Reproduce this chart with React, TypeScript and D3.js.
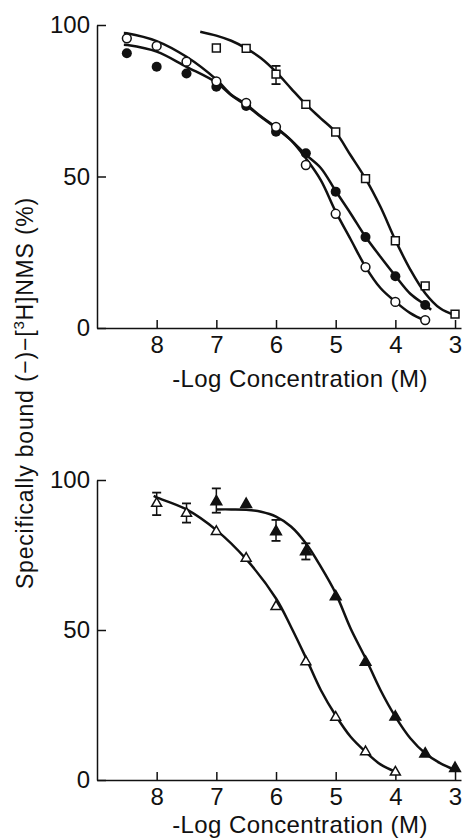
import { axisBottom, axisLeft, curveCatmullRom, line, scaleLinear, select, symbol, symbolSquare, symbolTriangle } from 'd3';
import * as React from 'react';

const xTicks = [8, 7, 6, 5, 4, 3];
const yTicks = [0, 50, 100];
const xTitle = "-Log Concentration (M)";

// upper panel, measured points
const openCircleX = [8.5, 8, 7.5, 7, 6.5, 6, 5.5, 5, 4.5, 4, 3.5];
const openCircleY = [95.6, 93.1, 87.9, 81.4, 74.3, 66.4, 53.8, 37.7, 20.1, 8.6, 2.6];
const filledCircleX = [8.5, 8, 7.5, 7, 6.5, 6, 5.5, 5, 4.5, 4, 3.5];
const filledCircleY = [90.7, 86.2, 84.0, 79.6, 73.3, 64.8, 57.7, 45.0, 30.0, 17.1, 7.6];
const squareX = [7, 6.5, 6, 5.5, 5, 4.5, 4, 3.5, 3];
const squareY = [92.4, 92.3, 83.8, 73.8, 64.7, 49.3, 28.8, 13.9, 4.6];
const squareErrX = [6];
const squareErrLo = [80.5];
const squareErrHi = [86.5];

// upper panel, fitted curves (traced)
const openCircleFitX = [8.55, 8.5, 8, 7.5, 7, 6.75, 6.5, 6.25, 6, 5.75, 5.5, 5.25, 5, 4.75, 4.5, 4.25, 4, 3.75, 3.5];
const openCircleFitY = [97.4, 97.3, 94.7, 89.5, 82, 77, 73.8, 69.8, 66.2, 62, 56, 48.8, 38.4, 29.3, 20.2, 13.2, 8.7, 4.9, 2.4];
const filledCircleFitX = [8.55, 8.5, 8, 7.5, 7, 6.75, 6.5, 6.25, 6, 5.75, 5.5, 5.25, 5, 4.75, 4.5, 4.25, 4, 3.75, 3.5, 3.4];
const filledCircleFitY = [93.5, 93.4, 91.2, 86.2, 81, 76.8, 73.5, 69.6, 66, 62, 57.2, 52.8, 45.2, 37.8, 30.1, 23.5, 17.2, 11.3, 7.6, 6.0];
const squareFitX = [7.27, 7, 6.75, 6.5, 6.25, 6, 5.75, 5.5, 5.25, 5, 4.75, 4.5, 4.25, 4, 3.75, 3.5, 3.25, 3];
const squareFitY = [97.8, 96.5, 94.8, 92.3, 89, 84.5, 79.1, 73.8, 69.2, 64.6, 57, 49.3, 40, 29, 19.3, 11.5, 6.5, 4.2];

// lower panel, measured points
const openTriX = [8, 7.5, 7, 6.5, 6, 5.5, 5, 4.5, 4];
const openTriY = [92.2, 88.9, 82.8, 73.9, 57.8, 39.4, 20.9, 9.4, 2.6];
const openTriErrX = [8, 7.5];
const openTriErrLo = [88.3, 85.8];
const openTriErrHi = [95.8, 92.2];
const filledTriX = [7, 6.5, 6, 5.5, 5, 4.5, 4, 3.5, 3];
const filledTriY = [92.8, 91.9, 82.8, 76.1, 61.1, 39.3, 21.0, 8.7, 3.9];
const filledTriErrX = [7, 6, 5.5];
const filledTriErrLo = [89.1, 79.7, 73.5];
const filledTriErrHi = [97.2, 86.7, 78.9];

// lower panel, fitted curves (traced)
const openTriFitX = [8.05, 8, 7.5, 7, 6.5, 6, 5.75, 5.5, 5.25, 5, 4.75, 4.5, 4.25, 4, 3.95];
const openTriFitY = [94.7, 94.2, 90.2, 83.3, 73.6, 60.5, 51.1, 40.8, 30, 21.5, 14.4, 9.4, 5.2, 2.8, 2.5];
const filledTriFitX = [7, 6.75, 6.5, 6.25, 6, 5.75, 5.5, 5.25, 5, 4.75, 4.5, 4.25, 4, 3.75, 3.5, 3.25, 3];
const filledTriFitY = [90.2, 90.2, 90.1, 89.4, 87.8, 84.5, 78.9, 71.1, 62.2, 50.5, 40.6, 30, 21.1, 13.9, 8.9, 5.6, 3.3];

const zip = (xs: number[], ys: number[]) => xs.map((x, i) => [x, ys[i]] as [number, number]);

const App = () => {
    const svgRef = React.useRef<SVGSVGElement>(null);

    React.useEffect(() => {
        const svg = select(svgRef.current);
        svg.selectAll("*").remove();
        const font = "'Liberation Sans', Arial, sans-serif";

        const xScale = scaleLinear().domain([9, 2.9]).range([97, 461]);

        const drawPanel = (top: number, bottom: number, titleY: number, draw: (g: any, y: any) => void) => {
            const yScale = scaleLinear().domain([0, 100]).range([bottom, top]);
            const g = svg.append("g");

            const xAxis = axisBottom(xScale).tickValues(xTicks).tickSize(-8).tickSizeOuter(0).tickPadding(8).tickFormat((d: any) => String(d));
            const xg = g.append("g").attr("transform", `translate(0,${bottom})`).call(xAxis as any);
            const yAxis = axisLeft(yScale).tickValues(yTicks).tickSize(-9).tickSizeOuter(0).tickPadding(7).tickFormat((d: any) => String(d));
            const yg = g.append("g").attr("transform", `translate(97,0)`).call(yAxis as any);

            [xg, yg].forEach((a) => {
                a.select(".domain").attr("stroke", "#111").attr("stroke-width", 1.5);
                a.selectAll(".tick line").attr("stroke", "#111").attr("stroke-width", 1.5);
                a.selectAll(".tick text").attr("fill", "#111").style("font-family", font).style("font-size", "24px");
            });
            xg.selectAll(".tick text").attr("dy", "0.71em");

            g.append("text")
                .attr("x", 300).attr("y", titleY)
                .attr("text-anchor", "middle")
                .style("font-family", font).style("font-size", "24px").style("letter-spacing", "0.4px")
                .attr("fill", "#111")
                .text(xTitle);

            draw(g, yScale);
        };

        const curve = (g: any, y: any, xs: number[], ys: number[]) => {
            const gen = line<[number, number]>()
                .x((d) => xScale(d[0]))
                .y((d) => y(d[1]))
                .curve(curveCatmullRom.alpha(0.5));
            g.append("path").attr("d", gen(zip(xs, ys))).attr("fill", "none").attr("stroke", "#111").attr("stroke-width", 2.5);
        };

        const errorBars = (g: any, y: any, xs: number[], lo: number[], hi: number[]) => {
            xs.forEach((x, i) => {
                const px = xScale(x);
                g.append("line").attr("x1", px).attr("x2", px).attr("y1", y(lo[i])).attr("y2", y(hi[i])).attr("stroke", "#111").attr("stroke-width", 1.5);
                [lo[i], hi[i]].forEach((v) => {
                    g.append("line").attr("x1", px - 4.5).attr("x2", px + 4.5).attr("y1", y(v)).attr("y2", y(v)).attr("stroke", "#111").attr("stroke-width", 1.8);
                });
            });
        };

        const circles = (g: any, y: any, xs: number[], ys: number[], filled: boolean) => {
            g.selectAll(null)
                .data(zip(xs, ys))
                .join("circle")
                .attr("cx", (d: [number, number]) => xScale(d[0]))
                .attr("cy", (d: [number, number]) => y(d[1]))
                .attr("r", filled ? 5 : 4.4)
                .attr("fill", filled ? "#111" : "#fff")
                .attr("stroke", "#111")
                .attr("stroke-width", filled ? 0 : 1.5);
        };

        const symbols = (g: any, y: any, xs: number[], ys: number[], type: any, size: number, filled: boolean) => {
            g.selectAll(null)
                .data(zip(xs, ys))
                .join("path")
                .attr("d", symbol(type, size)())
                .attr("transform", (d: [number, number]) => `translate(${xScale(d[0])},${y(d[1])})`)
                .attr("fill", filled ? "#111" : "#fff")
                .attr("stroke", "#111")
                .attr("stroke-width", 1.5);
        };

        drawPanel(25, 328, 387, (g, y) => {
            curve(g, y, squareFitX, squareFitY);
            curve(g, y, openCircleFitX, openCircleFitY);
            curve(g, y, filledCircleFitX, filledCircleFitY);
            errorBars(g, y, squareErrX, squareErrLo, squareErrHi);
            circles(g, y, filledCircleX, filledCircleY, true);
            circles(g, y, openCircleX, openCircleY, false);
            symbols(g, y, squareX, squareY, symbolSquare, 62, false);
        });

        drawPanel(480, 780, 833, (g, y) => {
            curve(g, y, openTriFitX, openTriFitY);
            curve(g, y, filledTriFitX, filledTriFitY);
            errorBars(g, y, openTriErrX, openTriErrLo, openTriErrHi);
            errorBars(g, y, filledTriErrX, filledTriErrLo, filledTriErrHi);
            symbols(g, y, openTriX, openTriY, symbolTriangle, 43, false);
            symbols(g, y, filledTriX, filledTriY, symbolTriangle, 50, true);
        });

        // shared y title
        const yt = svg.append("text")
            .attr("transform", "translate(33,393) rotate(-90)")
            .attr("text-anchor", "middle")
            .style("font-family", font).style("font-size", "23px").style("letter-spacing", "0.8px")
            .attr("fill", "#111");
        yt.append("tspan").text("Specifically bound (−)−[");
        yt.append("tspan").attr("dy", -9).style("font-size", "15px").text("3");
        yt.append("tspan").attr("dy", 9).text("H]NMS (%)");
    }, []);

    return (
        <div style={{ position: 'absolute', left: 0, top: 0, width: 462, height: 839, background: '#fff' }}>
            <svg ref={svgRef} width={462} height={839} style={{ display: 'block' }} />
        </div>
    );
};

export default App;
